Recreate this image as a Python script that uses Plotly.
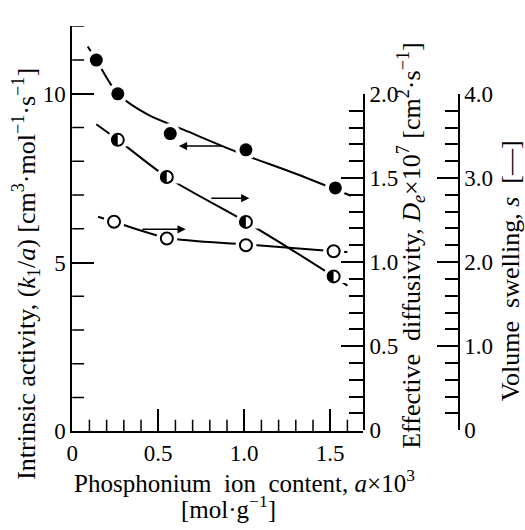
import plotly.graph_objects as go

# Measured points
# Intrinsic activity k1/a  [cm3 mol-1 s-1]  (left axis)
act_x = [0.14, 0.265, 0.57, 1.01, 1.53]
act_y = [11.0, 10.0, 8.82, 8.34, 7.21]
# Effective diffusivity De x 1e7 [cm2 s-1]  (middle axis)
dif_x = [0.265, 0.55, 1.01, 1.52]
dif_y = [1.727, 1.506, 1.239, 0.915]
# Volume swelling s [-]  (right axis)
swl_x = [0.243, 0.55, 1.01, 1.52]
swl_y = [2.48, 2.28, 2.20, 2.13]

# Hand-drawn trend curves (knots)
act_fit_x = [0.09, 0.14, 0.265, 0.44, 0.65, 0.97, 1.3, 1.62]
act_fit_y = [11.4, 11.0, 10.0, 9.38, 8.93, 8.25, 7.63, 6.98]
dif_fit_x = [0.14, 0.265, 0.55, 1.01, 1.52, 1.60]
dif_fit_y = [1.82, 1.727, 1.506, 1.239, 0.915, 0.86]
swl_fit_x = [0.15, 0.243, 0.55, 1.01, 1.52, 1.60]
swl_fit_y = [2.54, 2.48, 2.29, 2.21, 2.13, 2.12]

# Tick labels
x_ticks = [0, 0.5, 1.0, 1.5]
x_labels = ["0", "0.5", "1.0", "1.5"]
act_ticks = [0, 5, 10]
act_labels = ["0", "5", "10"]
dif_ticks = [0, 0.5, 1.0, 1.5, 2.0]
dif_labels = ["0", "0.5", "1.0", "1.5", "2.0"]
swl_ticks = [0, 1, 2, 3, 4]
swl_labels = ["0", "1.0", "2.0", "3.0", "4.0"]
# Short tick positions on the bottom and left scales
x_minor = [i / 10 for i in range(1, 17) if i % 5]
act_minor = [i for i in range(1, 13) if i % 5]

W, H = 525, 530
FONT = "Liberation Serif"
TICK_FS = 23
X_RANGE = [0, 1.69]
X_PX = (67, 361)          # left / right edge of the plotting area, in pixels
Y_PX = (15, 440)          # top / bottom edge of the left scale, in pixels
MINOR_LEN = 12


def px_x(p):
    return p / W


def px_y(p):
    return 1 - p / H


fig = go.Figure()

MARK_R = 6.5  # marker radius in pixels
x_per_px = (X_RANGE[1] - X_RANGE[0]) / (X_PX[1] - X_PX[0])


def add_series(fx, fy, mx, my, yaxis, kind):
    fig.add_trace(go.Scatter(x=fx, y=fy, yaxis=yaxis, mode="lines",
                             line=dict(color="black", width=2, shape="spline", smoothing=0.8),
                             hoverinfo="skip", showlegend=False))
    # white halo so the curve breaks around each marker
    fig.add_trace(go.Scatter(x=mx, y=my, yaxis=yaxis, mode="markers",
                             marker=dict(size=21, color="white", line=dict(width=0)),
                             hoverinfo="skip", showlegend=False))
    if kind == "filled":
        fig.add_trace(go.Scatter(x=mx, y=my, yaxis=yaxis, mode="markers",
                                 marker=dict(size=2 * MARK_R, color="black", line=dict(width=0)),
                                 showlegend=False))
    elif kind == "open":
        fig.add_trace(go.Scatter(x=mx, y=my, yaxis=yaxis, mode="markers",
                                 marker=dict(size=2 * MARK_R - 1, color="white",
                                             line=dict(width=2, color="black")),
                                 showlegend=False))
    else:
        # half-filled circle: black disc, white mask over the right half, outline on top
        fig.add_trace(go.Scatter(x=mx, y=my, yaxis=yaxis, mode="markers",
                                 marker=dict(size=2 * MARK_R - 1, color="black", line=dict(width=0)),
                                 hoverinfo="skip", showlegend=False))
        shift = MARK_R * x_per_px
        fig.add_trace(go.Scatter(x=[v + shift for v in mx], y=my, yaxis=yaxis, mode="markers",
                                 marker=dict(symbol="square", size=2 * MARK_R, color="white",
                                             line=dict(width=0)),
                                 hoverinfo="skip", showlegend=False))
        fig.add_trace(go.Scatter(x=mx, y=my, yaxis=yaxis, mode="markers",
                                 marker=dict(symbol="circle-open", size=2 * MARK_R - 1,
                                             color="black", line=dict(width=2, color="black")),
                                 showlegend=False))


add_series(act_fit_x, act_fit_y, act_x, act_y, "y", "filled")
add_series(dif_fit_x, dif_fit_y, dif_x, dif_y, "y2", "half")
add_series(swl_fit_x, swl_fit_y, swl_x, swl_y, "y3", "open")

tickfont = dict(family=FONT, size=TICK_FS, color="black")
axis_common = dict(showgrid=False, zeroline=False, showline=True, linecolor="black",
                   linewidth=2, ticks="inside", tickcolor="black", tickwidth=1.5,
                   tickfont=tickfont, tickmode="array")


def minor(step, length):
    return dict(tickmode="linear", tick0=0, dtick=step, ticklen=length,
                ticks="inside", tickcolor="black", tickwidth=1.5, showgrid=False)


fig.update_layout(
    width=W, height=H,
    margin=dict(l=0, r=0, t=0, b=0),
    paper_bgcolor="white", plot_bgcolor="rgba(0,0,0,0)",
    showlegend=False,
    xaxis=dict(domain=[px_x(X_PX[0]), px_x(X_PX[1])], range=X_RANGE, anchor="y",
               tickvals=x_ticks, ticktext=x_labels, ticklen=22, **axis_common),
    yaxis=dict(domain=[px_y(Y_PX[1]), px_y(Y_PX[0])], range=[0, 12], anchor="x",
               tickvals=act_ticks, ticktext=act_labels, ticklen=22, **axis_common),
    yaxis2=dict(domain=[px_y(439), px_y(86)], range=[0, 2.0], anchor="free",
                position=px_x(362), side="right",
                tickvals=dif_ticks, ticktext=dif_labels, ticklen=22,
                minor=minor(0.1, 14), **axis_common),
    yaxis3=dict(domain=[px_y(439), px_y(86)], range=[0, 4.0], anchor="free",
                position=px_x(458), side="right",
                tickvals=swl_ticks, ticktext=swl_labels, ticklen=21,
                minor=minor(0.2, 13), **axis_common),
)

# Short ticks on the bottom and left scales
tick_line = dict(color="black", width=1.5)
x_frac = MINOR_LEN / (X_PX[1] - X_PX[0])
y_frac = MINOR_LEN / (Y_PX[1] - Y_PX[0])
for v in act_minor:
    fig.add_shape(type="line", xref="x domain", yref="y", x0=0, x1=x_frac, y0=v, y1=v,
                  line=tick_line, layer="above")
for v in x_minor:
    fig.add_shape(type="line", xref="x", yref="y domain", x0=v, x1=v, y0=0, y1=y_frac,
                  line=tick_line, layer="above")

# Arrows pointing each curve to its axis
arrow = dict(showarrow=True, arrowhead=2, arrowsize=1.1, arrowwidth=1.5,
             arrowcolor="black", text="")
fig.add_annotation(x=0.62, y=8.45, ax=0.88, ay=8.45, xref="x", yref="y",
                   axref="x", ayref="y", **arrow)
fig.add_annotation(x=1.03, y=1.38, ax=0.80, ay=1.38, xref="x", yref="y2",
                   axref="x", ayref="y2", **arrow)
fig.add_annotation(x=0.66, y=2.39, ax=0.40, ay=2.39, xref="x", yref="y3",
                   axref="x", ayref="y3", **arrow)


def title(text, x, y, size, angle=0):
    fig.add_annotation(text=text, x=px_x(x), y=px_y(y), xref="paper", yref="paper",
                       xanchor="center", yanchor="middle", textangle=angle,
                       showarrow=False, font=dict(family=FONT, size=size, color="black"))


title("Intrinsic activity, (<i>k</i><sub>1</sub>/<i>a</i>) [cm<sup>3</sup>\u00b7mol<sup>\u22121</sup>\u00b7s<sup>\u22121</sup>]",
      20, 275, 26, -90)
title("Effective\u00a0 diffusivity, <i>D<sub>e</sub></i>\u00d710<sup>7</sup> [cm<sup>2</sup>\u00b7s<sup>\u22121</sup>]",
      410, 245, 26, -90)
title("Volume\u00a0 swelling, <i>s</i>\u00a0 [\u2014]", 510, 272, 26, -90)
title("Phosphonium\u00a0 ion\u00a0 content, <i>a</i>\u00d710<sup>3</sup>", 241, 492, 25)
title("[mol\u00b7g<sup>\u22121</sup>]", 225, 519, 25)

fig.write_html("out.html")
